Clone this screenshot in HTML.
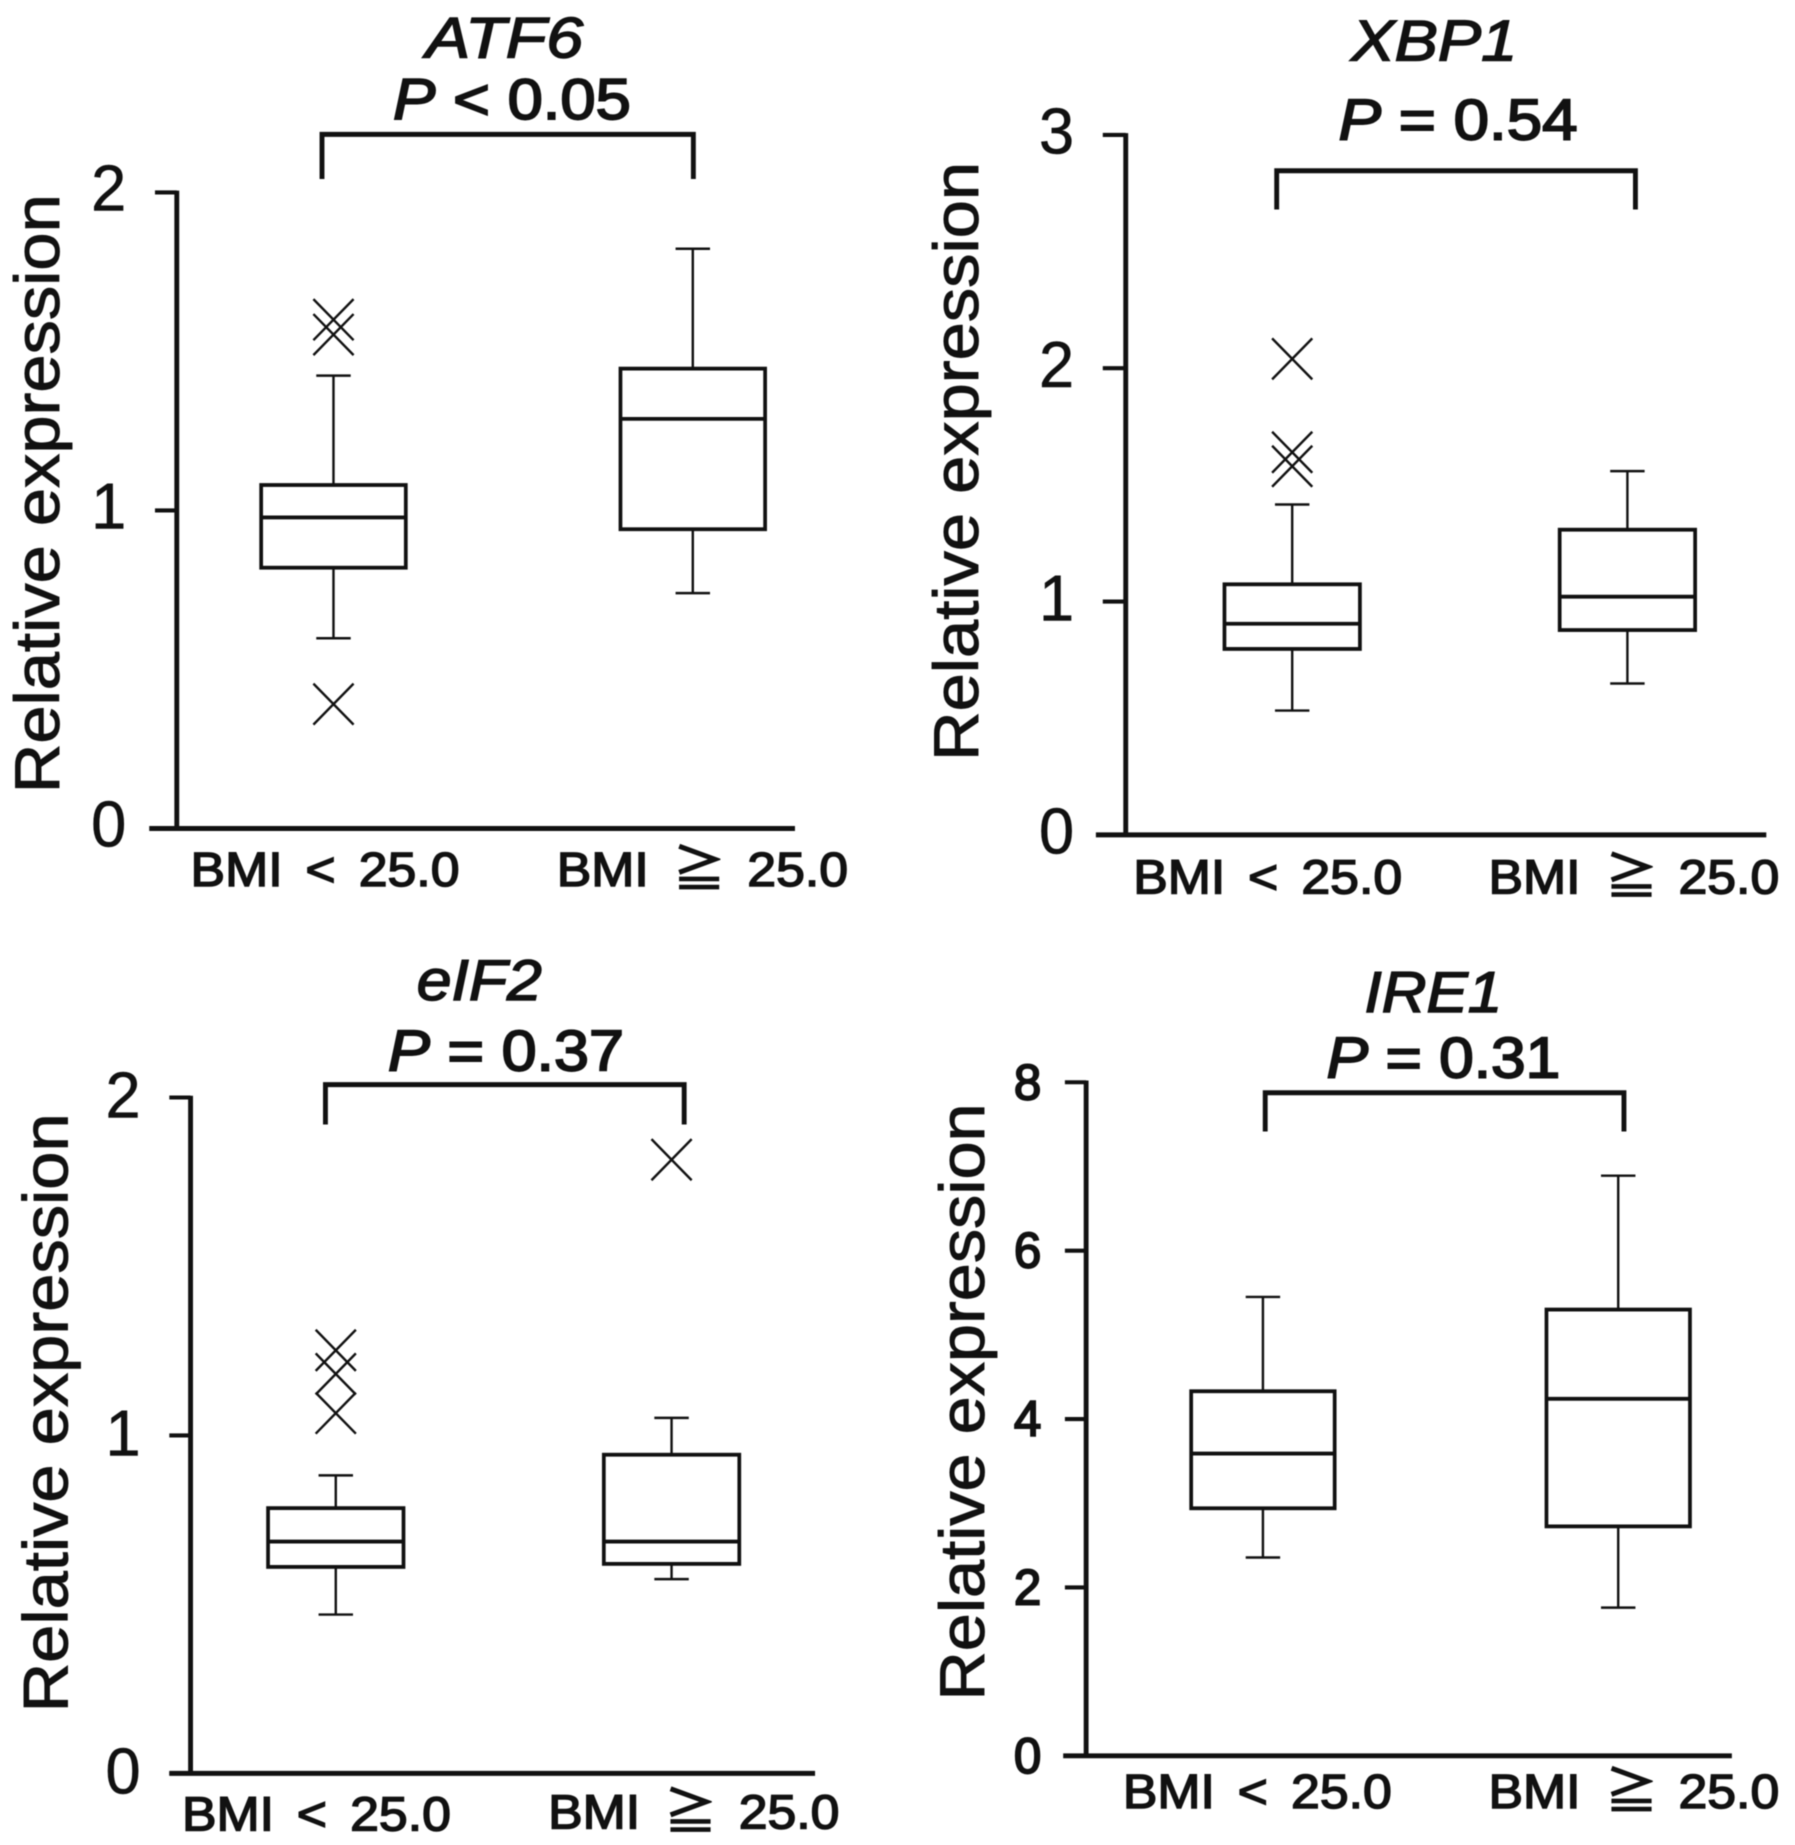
<!DOCTYPE html>
<html lang="en">
<head>
<meta charset="utf-8">
<title>Relative expression box plots by BMI</title>
<style>
html,body{margin:0;padding:0;background:#fff;}
#figure{display:block;width:1795px;height:1845px;filter:blur(.6px);}
text{font-family:"Liberation Sans","Noto Sans CJK JP",sans-serif;fill:#111;stroke:#111;stroke-width:2.4px;}
.gene{font-size:98px;font-style:italic;stroke-width:2.6px;}
.pval{font-size:98px;stroke-width:3.2px;}
.pval tspan{font-style:italic;}
.ylab{font-size:110px;stroke-width:1.6px;}
</style>
</head>
<body>
<svg id="figure" xmlns="http://www.w3.org/2000/svg" width="1795" height="1845" viewBox="0 0 1795 1845">
  <rect x="0" y="0" width="1795" height="1845" fill="#fff"/>

  <g id="panel-atf6" transform="translate(0,0) scale(.57398,.58673)">
    <text class="gene" x="742" y="98" textLength="274" lengthAdjust="spacingAndGlyphs">ATF6</text>
    <text class="pval" x="685" y="203" textLength="414" lengthAdjust="spacingAndGlyphs"><tspan>P</tspan> &lt; 0.05</text>
    <text class="ylab" transform="translate(103,1352) rotate(-90)" textLength="1021" lengthAdjust="spacingAndGlyphs">Relative expression</text>
  </g>

  <g id="panel-xbp1" transform="translate(895,0) scale(.57398,.58673)">
    <text class="gene" x="795" y="103" textLength="289" lengthAdjust="spacingAndGlyphs">XBP1</text>
    <text class="pval" x="773" y="238" textLength="416" lengthAdjust="spacingAndGlyphs"><tspan>P</tspan> = 0.54</text>
    <text class="ylab" transform="translate(145,1297) rotate(-90)" textLength="1021" lengthAdjust="spacingAndGlyphs">Relative expression</text>
  </g>

  <g id="panel-eif2" transform="translate(0,925) scale(.57398,.58673)">
    <text class="gene" x="726" y="128" textLength="218" lengthAdjust="spacingAndGlyphs">eIF2</text>
    <text class="pval" x="676" y="248" textLength="411" lengthAdjust="spacingAndGlyphs"><tspan>P</tspan> = 0.37</text>
    <text class="ylab" transform="translate(118,1342) rotate(-90)" textLength="1021" lengthAdjust="spacingAndGlyphs">Relative expression</text>
  </g>

  <g id="panel-ire1" transform="translate(895,925) scale(.57398,.58673)">
    <text class="gene" x="818" y="148" textLength="240" lengthAdjust="spacingAndGlyphs">IRE1</text>
    <text class="pval" x="752" y="260" textLength="407" lengthAdjust="spacingAndGlyphs"><tspan>P</tspan> = 0.31</text>
    <text class="ylab" transform="translate(155,1322) rotate(-90)" textLength="1018" lengthAdjust="spacingAndGlyphs">Relative expression</text>
  </g>
</svg>

<script>
// Shared categories
const categories = ['BMI < 25.0', 'BMI \u2267 25.0'];

// ATF6 data
const atf6Ticks = [0, 1, 2];
const atf6Low = [0.598, 0.74];
const atf6Q1 = [0.82, 0.941];
const atf6Median = [0.978, 1.288];
const atf6Q3 = [1.08, 1.446];
const atf6High = [1.424, 1.823];
const atf6Outliers = [[0.391, 1.553, 1.6], []];

// XBP1 data
const xbp1Ticks = [0, 1, 2, 3];
const xbp1Low = [0.533, 0.649];
const xbp1Q1 = [0.797, 0.878];
const xbp1Median = [0.905, 1.021];
const xbp1Q3 = [1.074, 1.308];
const xbp1High = [1.416, 1.559];
const xbp1Outliers = [[1.58, 1.64, 2.04], []];

// eIF2 data
const eif2Ticks = [0, 1, 2];
const eif2Low = [0.47, 0.575];
const eif2Q1 = [0.611, 0.62];
const eif2Median = [0.686, 0.686];
const eif2Q3 = [0.785, 0.943];
const eif2High = [0.882, 1.052];
const eif2Outliers = [[1.066, 1.182, 1.252], [1.816]];

// IRE1 data
const ire1Ticks = [0, 2, 4, 6, 8];
const ire1Low = [2.355, 1.76];
const ire1Q1 = [2.94, 2.725];
const ire1Median = [3.59, 4.24];
const ire1Q3 = [4.33, 5.3];
const ire1High = [5.45, 6.89];
const ire1Outliers = [[], []];

const SVG_NS = 'http://www.w3.org/2000/svg';

function node(parent, tag, attrs, name) {
  const el = document.createElementNS(SVG_NS, tag);
  for (const k in attrs) el.setAttribute(k, attrs[k]);
  
  
  parent.appendChild(el);
  return el;
}

function line(parent, x1, y1, x2, y2, width, name) {
  return node(parent, 'line', {x1: x1, y1: y1, x2: x2, y2: y2, stroke: '#111', 'stroke-width': width}, name);
}

function drawPanel(cfg) {
  const g = document.getElementById('panel-' + cfg.id);
  const yScale = function (v) { return cfg.y0 - v * cfg.unit; };
  const top = yScale(cfg.ticks[cfg.ticks.length - 1]);

  // Significance bracket
  node(g, 'path', {
    d: 'M' + cfg.bracket[0] + ' ' + cfg.bracket[3] + 'V' + cfg.bracket[2] + 'H' + cfg.bracket[1] + 'V' + cfg.bracket[3],
    fill: 'none', stroke: '#111', 'stroke-width': 8.5
  }, cfg.id + '-significance-bracket');

  // Axes
  line(g, cfg.axisX, top - 3, cfg.axisX, cfg.y0 + 3, 8.5, cfg.id + '-y-axis');
  line(g, cfg.baseLeft, cfg.y0, cfg.baseRight, cfg.y0, 8.5, cfg.id + '-x-axis');

  // Ticks and tick labels
  cfg.ticks.forEach(function (t) {
    line(g, cfg.tickLeft, yScale(t), cfg.axisX, yScale(t), 7, cfg.id + '-y-tick-' + t);
    const label = node(g, 'text', {
      x: cfg.labelRight, y: yScale(t) + cfg.labelDy, 'text-anchor': 'end',
      style: 'font-size:' + cfg.labelSize + 'px;stroke-width:' + cfg.labelStroke + 'px'
    }, cfg.id + '-y-tick-label-' + t);
    label.textContent = String(t);
  });

  // Category labels
  categories.forEach(function (cat, i) {
    const xs = cfg.xLabelX[i];
    const sx = 1.1;
    const label = node(g, 'text', {
      transform: 'translate(' + (xs[0] - 3) + ',' + cfg.xLabelY[i] + ') scale(' + sx + ',1)',
      style: 'font-size:82px;stroke-width:2.6px'
    }, cfg.id + '-x-label-' + (i + 1));
    cat.split(' ').forEach(function (word, j) {
      const span = document.createElementNS(SVG_NS, 'tspan');
      span.setAttribute('x', (xs[j] - xs[0]) / sx);
      span.setAttribute('y', 0);
      span.textContent = word;
      label.appendChild(span);
    });
  });

  // Box plots
  cfg.centers.forEach(function (cx, i) {
    const hi = yScale(cfg.high[i]);
    const lo = yScale(cfg.low[i]);
    const q3 = yScale(cfg.q3[i]);
    const q1 = yScale(cfg.q1[i]);
    const med = yScale(cfg.median[i]);
    line(g, cx, hi, cx, q3, 4.2, cfg.id + '-upper-whisker-' + (i + 1));
    line(g, cx, q1, cx, lo, 4.2, cfg.id + '-lower-whisker-' + (i + 1));
    line(g, cx - 30, hi, cx + 30, hi, 4.2, cfg.id + '-upper-cap-' + (i + 1));
    line(g, cx - 30, lo, cx + 30, lo, 4.2, cfg.id + '-lower-cap-' + (i + 1));
    node(g, 'rect', {
      x: cx - cfg.boxHalf, y: q3, width: 2 * cfg.boxHalf, height: q1 - q3,
      fill: 'none', stroke: '#111', 'stroke-width': 6.5
    }, cfg.id + '-box-' + (i + 1));
    line(g, cx - cfg.boxHalf, med, cx + cfg.boxHalf, med, 6.5, cfg.id + '-median-' + (i + 1));
    cfg.outliers[i].forEach(function (v, k) {
      const oy = yScale(v);
      const r = 35;
      node(g, 'path', {
        d: 'M' + (cx - r) + ' ' + (oy - r) + 'L' + (cx + r) + ' ' + (oy + r) +
           'M' + (cx + r) + ' ' + (oy - r) + 'L' + (cx - r) + ' ' + (oy + r),
        fill: 'none', stroke: '#111', 'stroke-width': 4.2
      }, cfg.id + '-outlier-' + (i + 1) + '-' + (k + 1));
    });
  });
}

drawPanel({
  id: 'atf6', ticks: atf6Ticks, low: atf6Low, q1: atf6Q1, median: atf6Median, q3: atf6Q3, high: atf6High, outliers: atf6Outliers,
  axisX: 308, y0: 1412, unit: 542, tickLeft: 270, baseLeft: 260, baseRight: 1385,
  centers: [581, 1207], boxHalf: 126, labelRight: 220, labelDy: 31, labelSize: 110, labelStroke: 1,
  bracket: [561, 1208, 229, 305],
  xLabelX: [[335, 535, 628], [973, 1176, 1305]], xLabelY: [1510, 1510]
});

drawPanel({
  id: 'xbp1', ticks: xbp1Ticks, low: xbp1Low, q1: xbp1Q1, median: xbp1Median, q3: xbp1Q3, high: xbp1High, outliers: xbp1Outliers,
  axisX: 402, y0: 1423, unit: 397.7, tickLeft: 362, baseLeft: 350, baseRight: 1518,
  centers: [692, 1276], boxHalf: 118, labelRight: 312, labelDy: 32, labelSize: 110, labelStroke: 1,
  bracket: [665, 1290, 291, 357],
  xLabelX: [[418, 618, 711], [1037, 1241, 1368]], xLabelY: [1523, 1523]
});

drawPanel({
  id: 'eif2', ticks: eif2Ticks, low: eif2Low, q1: eif2Q1, median: eif2Median, q3: eif2Q3, high: eif2High, outliers: eif2Outliers,
  axisX: 332, y0: 1446, unit: 576, tickLeft: 295, baseLeft: 295, baseRight: 1420,
  centers: [585, 1170], boxHalf: 118, labelRight: 245, labelDy: 34, labelSize: 110, labelStroke: 1,
  bracket: [567, 1192, 272, 340],
  xLabelX: [[320, 520, 613], [958, 1161, 1290]], xLabelY: [1543, 1540]
});

drawPanel({
  id: 'ire1', ticks: ire1Ticks, low: ire1Low, q1: ire1Q1, median: ire1Median, q3: ire1Q3, high: ire1High, outliers: ire1Outliers,
  axisX: 333, y0: 1416, unit: 143.5, tickLeft: 296, baseLeft: 293, baseRight: 1458,
  centers: [641, 1260], boxHalf: 125, labelRight: 255, labelDy: 29, labelSize: 86, labelStroke: 3.2,
  bracket: [645, 1270, 286, 352],
  xLabelX: [[400, 600, 693], [1037, 1241, 1368]], xLabelY: [1505, 1505]
});
</script>
</body>
</html>
